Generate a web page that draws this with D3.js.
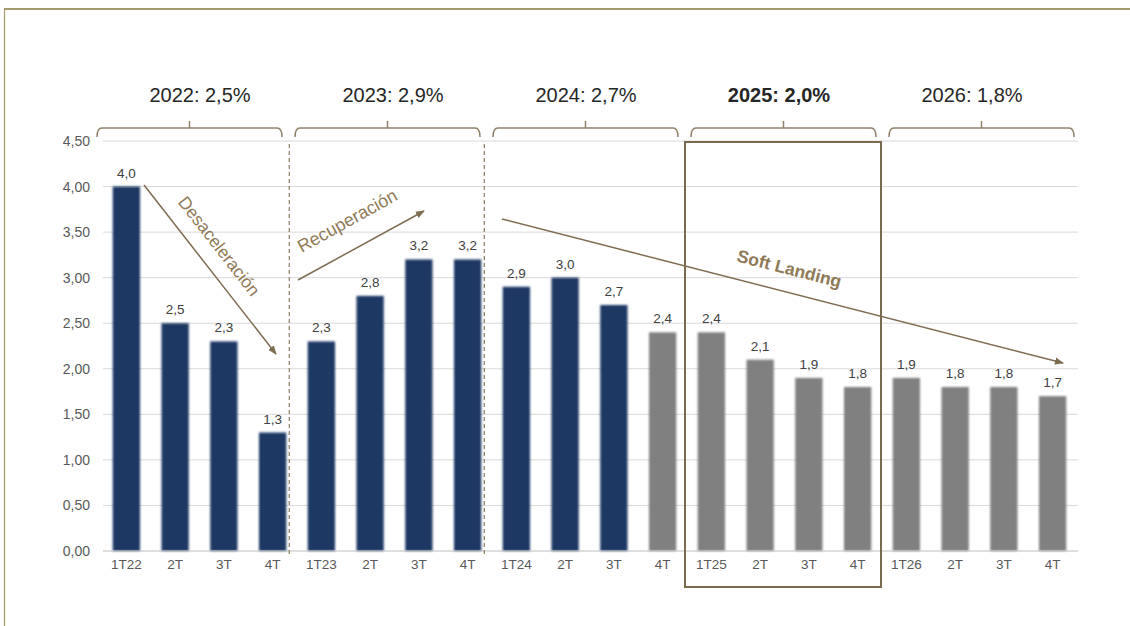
<!DOCTYPE html>
<html>
<head>
<meta charset="utf-8">
<script src="https://cdn.jsdelivr.net/npm/d3@7"></script>
<style>
  html, body { margin: 0; padding: 0; background: #fff; }
  svg { display: block; font-family: "Liberation Sans", Arial, sans-serif; }
</style>
</head>
<body>
<svg id="chart" width="1130" height="626"></svg>
<script>
// Quarterly GDP growth (% y/y), observed and forecast
const quarters = ["1T22","2T","3T","4T","1T23","2T","3T","4T","1T24","2T","3T","4T","1T25","2T","3T","4T","1T26","2T","3T","4T"];
const growth   = [4.0, 2.5, 2.3, 1.3, 2.3, 2.8, 3.2, 3.2, 2.9, 3.0, 2.7, 2.4, 2.4, 2.1, 1.9, 1.8, 1.9, 1.8, 1.8, 1.7];
const forecastFrom = 11; // index of the first forecast quarter
const years     = ["2022", "2023", "2024", "2025", "2026"];
const yearRates = ["2,5%", "2,9%", "2,7%", "2,0%", "1,8%"];
const yTicks    = [0, 0.5, 1, 1.5, 2, 2.5, 3, 3.5, 4, 4.5];

const svg = d3.select("#chart");
const fmt2 = v => d3.format(".2f")(v).replace(".", ",");
const fmt1 = v => d3.format(".1f")(v).replace(".", ",");

const x = d3.scaleBand().domain(d3.range(quarters.length)).range([102, 1077]).paddingInner(0.44).paddingOuter(0.22);
const y = d3.scaleLinear().domain([0, 4.5]).range([551, 141]);
// year brackets and their titles sit on their own slightly different rhythm
const yearX = d3.scaleLinear().domain([0, years.length - 1]).range([97, 889]);
const titleX = d3.scaleLinear().domain([0, years.length - 1]).range([200, 972]);
const bracketW = 185;

// frame
svg.append("line").attr("x1", 4).attr("x2", 1130).attr("y1", 9).attr("y2", 9)
  .attr("stroke", "#a59a6c").attr("stroke-width", 2);
svg.append("line").attr("x1", 4.5).attr("x2", 4.5).attr("y1", 9).attr("y2", 626)
  .attr("stroke", "#a59a6c").attr("stroke-width", 1.2);

// gridlines
svg.append("g").selectAll("line").data(yTicks.filter(d => d > 0)).join("line")
  .attr("x1", 103).attr("x2", 1078)
  .attr("y1", d => y(d)).attr("y2", d => y(d))
  .attr("stroke", "#d9d9d9").attr("stroke-width", 1);

// y axis labels
const yAxis = d3.axisLeft(y).tickValues(yTicks).tickFormat(fmt2).tickSize(0).tickPadding(12);
const yg = svg.append("g").attr("transform", "translate(102,0)").call(yAxis);
yg.select(".domain").remove();
yg.selectAll("text").attr("fill", "#595959").style("font-size", "14px")
  .style("font-family", "'Liberation Sans', Arial, sans-serif");

// bar soft edge
const defs = svg.append("defs");
defs.append("filter").attr("id", "soft").attr("x", "-20%").attr("y", "-5%").attr("width", "140%").attr("height", "110%")
  .append("feGaussianBlur").attr("stdDeviation", 0.8);

// bars
svg.append("g").selectAll("rect").data(growth).join("rect")
  .attr("x", (d, i) => x(i)).attr("width", x.bandwidth())
  .attr("y", d => y(d)).attr("height", d => y(0) - y(d))
  .attr("fill", (d, i) => i < forecastFrom ? "#1f3864" : "#808080")
  .attr("filter", "url(#soft)");

// baseline
svg.append("line").attr("x1", 103).attr("x2", 1078).attr("y1", y(0)).attr("y2", y(0))
  .attr("stroke", "#bfbfbf").attr("stroke-width", 1);

// value labels
svg.append("g").selectAll("text").data(growth).join("text")
  .attr("x", (d, i) => x(i) + x.bandwidth() / 2)
  .attr("y", d => y(d) - 9)
  .attr("text-anchor", "middle").attr("fill", "#404040").style("font-size", "13.5px")
  .text(d => fmt1(d));

// category labels
const xAxis = d3.axisBottom(x).tickFormat(i => quarters[i]).tickSize(0).tickPadding(8);
const xg = svg.append("g").attr("transform", `translate(0,${y(0)})`).call(xAxis);
xg.select(".domain").remove();
xg.selectAll("text").attr("fill", "#595959").style("font-size", "13.5px")
  .style("font-family", "'Liberation Sans', Arial, sans-serif");

// year separators, just right of the last bar of each observed year
[3, 7].forEach(i => {
  const sx = x(i) + x.bandwidth() + 3;
  svg.append("line").attr("x1", sx).attr("x2", sx).attr("y1", 144).attr("y2", y(0) + 3)
    .attr("stroke", "#8a7c5e").attr("stroke-width", 1.2).attr("stroke-dasharray", "4,3");
});

// year brackets and titles
const bracketColor = "#8f826a";
years.forEach((yr, k) => {
  const x0 = yearX(k), x1 = x0 + bracketW;
  const cx = (x0 + x1) / 2, by = 128;
  const path = d3.path();
  path.moveTo(x0, by + 9);
  path.quadraticCurveTo(x0, by, x0 + 5, by);
  path.lineTo(x1 - 5, by);
  path.quadraticCurveTo(x1, by, x1, by + 9);
  path.moveTo(cx, by);
  path.lineTo(cx, by - 7);
  svg.append("path").attr("d", path.toString()).attr("fill", "none")
    .attr("stroke", bracketColor).attr("stroke-width", 1.5);
  svg.append("text").attr("x", titleX(k)).attr("y", 102).attr("text-anchor", "middle")
    .attr("fill", "#262626").style("font-size", "20px")
    .style("font-weight", yr === "2025" ? "bold" : "normal")
    .text(`${yr}: ${yearRates[k]}`);
});

// highlight box for 2025
svg.append("rect").attr("x", 685).attr("y", 142).attr("width", 196).attr("height", 445)
  .attr("fill", "none").attr("stroke", "#7a6b4c").attr("stroke-width", 2);

// trend arrows
const arrowColor = "#7d6c50";
defs.append("marker").attr("id", "head").attr("viewBox", "0 0 10 10")
  .attr("refX", 9).attr("refY", 5).attr("markerWidth", 9).attr("markerHeight", 9)
  .attr("markerUnits", "userSpaceOnUse").attr("orient", "auto")
  .append("path").attr("d", "M0,1 L10,5 L0,9 Z").attr("fill", arrowColor);

function arrow(x1, y1, x2, y2) {
  svg.append("line").attr("x1", x1).attr("y1", y1).attr("x2", x2).attr("y2", y2)
    .attr("stroke", arrowColor).attr("stroke-width", 1.5).attr("marker-end", "url(#head)");
}
function label(txt, cx, cy, angle, bold, size) {
  svg.append("text").attr("transform", `translate(${cx},${cy}) rotate(${angle})`)
    .attr("text-anchor", "middle").attr("dominant-baseline", "middle")
    .attr("fill", "#8f7a58").style("font-size", size + "px")
    .style("font-weight", bold ? "bold" : "normal").text(txt);
}
arrow(144, 185, 276, 354);
label("Desaceleración", 218, 247, 52, false, 17.5);
arrow(298, 280, 424, 211);
label("Recuperación", 348, 222, -29, false, 18);
arrow(502, 219, 1063, 363);
label("Soft Landing", 789, 270, 14.3, true, 17.5);
</script>
</body>
</html>
